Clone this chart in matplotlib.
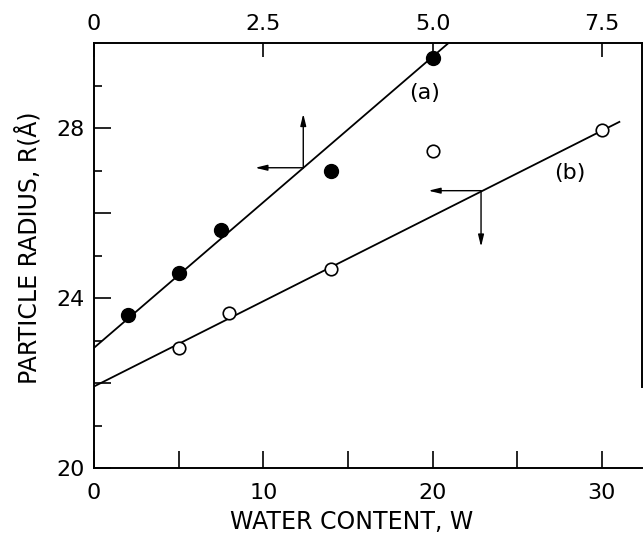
import matplotlib
matplotlib.use('Agg')
import matplotlib.pyplot as plt

# (a): plotted against the top axis
a_top = [0.5, 1.25, 1.875, 3.5, 5.0]
a_radius = [23.6, 24.6, 25.6, 27.0, 29.65]
# (b): plotted against the bottom axis (water content W)
b_water = [5, 8, 14, 20, 30]
b_radius = [22.83, 23.64, 24.69, 27.46, 27.96]

# drawn straight lines, end points
line_a_top = [0, 5.23]
line_a_radius = [22.83, 30.0]
line_b_water = [0, 31.03]
line_b_radius = [21.92, 28.15]

x_ticks = [0, 5, 10, 15, 20, 25, 30]
x_tick_labels = ['0', '', '10', '', '20', '', '30']
top_ticks = [0, 2.5, 5.0, 7.5]
top_tick_labels = ['0', '2.5', '5.0', '7.5']
y_ticks = [20, 22, 24, 26, 28]
y_tick_labels = ['20', '', '24', '', '28']
y_minor = [21, 23, 25, 27, 29]

xmax = 32.35

plt.rcParams['font.family'] = 'DejaVu Sans'
fig = plt.figure(figsize=(6.43, 5.4), dpi=100)
ax = fig.add_axes([0.1462, 0.1333, 0.8518, 0.7865])
ax2 = ax.twiny()

ax.set_xlim(0, xmax)
ax.set_ylim(20, 30)
ax2.set_xlim(0, xmax / 4)

lw = 1.3
# line (b) and open circles
ax.plot(line_b_water, line_b_radius, color='k', lw=lw, zorder=2)
ax.plot(b_water, b_radius, 'o', ms=9, mfc='white', mec='k', mew=1.2, zorder=3)
# line (a) and filled circles
ax2.plot(line_a_top, line_a_radius, color='k', lw=lw, zorder=2)
ax2.plot(a_top, a_radius, 'o', ms=10, color='k', zorder=3)

head = '-|>,head_length=0.7,head_width=0.17'
akw = dict(arrowstyle=head, color='k', lw=1.0, shrinkA=0, shrinkB=0)
# arrows for (a): up and left
ax2.annotate('', xy=(3.09, 28.34), xytext=(3.09, 27.07), arrowprops=akw)
ax2.annotate('', xy=(2.38, 27.07), xytext=(3.09, 27.07), arrowprops=akw)
# arrows for (b): left and down
ax.annotate('', xy=(19.75, 26.53), xytext=(22.86, 26.53), arrowprops=akw)
ax.annotate('', xy=(22.86, 25.21), xytext=(22.86, 26.53), arrowprops=akw)

ax.text(19.55, 28.82, '(a)', fontsize=16, ha='center', va='center')
ax.text(28.1, 26.94, '(b)', fontsize=16, ha='center', va='center')

# bottom / left axis
ax.set_xticks(x_ticks)
ax.set_xticklabels(x_tick_labels)
ax.set_yticks(y_ticks)
ax.set_yticklabels(y_tick_labels)
ax.set_yticks(y_minor, minor=True)
ax.tick_params(axis='x', which='major', direction='in', length=12, width=1.2,
               labelsize=16, pad=11, top=False)
ax.tick_params(axis='y', which='major', direction='in', length=12, width=1.2,
               labelsize=16, pad=7, right=False)
ax.tick_params(axis='y', which='minor', direction='in', length=6, width=1.2,
               right=False)

# top axis
ax2.set_xticks(top_ticks)
ax2.set_xticklabels(top_tick_labels)
ax2.tick_params(axis='x', direction='in', length=10, width=1.2,
                labelsize=16, pad=7)

for s in ['left', 'bottom', 'right']:
    ax2.spines[s].set_visible(False)
ax.spines['top'].set_visible(False)
for sp in [ax.spines['left'], ax.spines['bottom'], ax.spines['right'], ax2.spines['top']]:
    sp.set_linewidth(1.4)
ax.spines['right'].set_bounds(21.9, 30)

ax.set_xlabel('WATER CONTENT, W', fontsize=17)
ax.xaxis.set_label_coords(0.471, -0.1)
ax.set_ylabel('PARTICLE RADIUS, R(Å)', fontsize=17)
ax.yaxis.set_label_coords(-0.096, 0.518)

fig.savefig('out.png', dpi=100)
